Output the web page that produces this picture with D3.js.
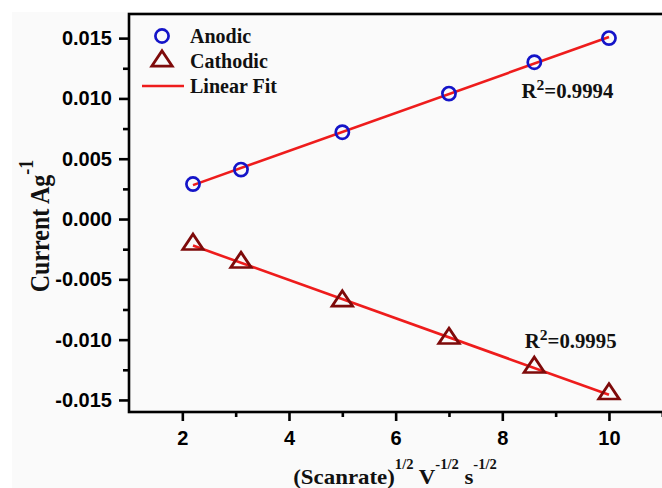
<!DOCTYPE html>
<html>
<head>
<meta charset="utf-8">
<script src="https://cdn.jsdelivr.net/npm/d3@7"></script>
<style>
  html, body { margin: 0; padding: 0; background: #ffffff; }
  svg { display: block; }
</style>
</head>
<body>
<svg id="chart" width="662" height="488"></svg>
<script>
// Peak current vs square root of scan rate
const sqrtScanRate = [2.2, 3.1, 5.0, 7.0, 8.6, 10.0];
const anodicCurrent = [0.0029, 0.0041, 0.0072, 0.0104, 0.0130, 0.0150];
const cathodicCurrent = [-0.0021, -0.0036, -0.0068, -0.0099, -0.0123, -0.0145];
const rSquared = [0.9994, 0.9995];
const legendLabels = ["Anodic", "Cathodic", "Linear Fit"];
const xTicks = [2, 4, 6, 8, 10];
const xMinorTicks = [3, 5, 7, 9, 11];
const yTicks = [-0.015, -0.010, -0.005, 0.000, 0.005, 0.010, 0.015];
const yMinorTicks = [-0.0125, -0.0075, -0.0025, 0.0025, 0.0075, 0.0125];

const svg = d3.select("#chart");
const W = 662, H = 488;
const plotLeft = 129, plotTop = 14, plotRight = 662.3, plotBottom = 412;

const blue = "#1414c8", wine = "#7e0a0a", red = "#ee1c1c";
const serif = "'Liberation Serif', 'Times New Roman', serif";
const sans = "'Liberation Sans', Arial, sans-serif";

// panel
svg.append("rect").attr("x", 0).attr("y", 0).attr("width", W).attr("height", H).attr("fill", "#ffffff");
svg.append("rect").attr("x", 12).attr("y", 12).attr("width", W - 12).attr("height", H - 12).attr("fill", "#fafafa");

const x = d3.scaleLinear().domain([1, 11]).range([plotLeft, plotRight]);
const y = d3.scaleLinear().domain([-0.016, 0.017]).range([plotBottom, plotTop]);

// frame (right edge runs just past the canvas)
svg.append("rect")
  .attr("x", plotLeft).attr("y", plotTop)
  .attr("width", W + 10 - plotLeft).attr("height", plotBottom - plotTop)
  .attr("fill", "none").attr("stroke", "#000").attr("stroke-width", 2.6);

function styleAxis(g) {
  g.select(".domain").remove();
  g.selectAll(".tick line").attr("stroke", "#000").attr("stroke-width", 2.6);
  g.selectAll(".tick text")
    .attr("fill", "#000")
    .style("font-family", sans)
    .style("font-weight", "bold")
    .style("font-size", "20px");
}

// x axis
svg.append("g").attr("transform", `translate(0,${plotBottom})`)
  .call(d3.axisBottom(x).tickValues(xMinorTicks).tickSize(5).tickFormat(""))
  .call(styleAxis);
svg.append("g").attr("transform", `translate(0,${plotBottom})`)
  .call(d3.axisBottom(x).tickValues(xTicks).tickSize(9).tickPadding(10)
        .tickFormat(d => String(d)))
  .call(styleAxis);

// y axis
svg.append("g").attr("transform", `translate(${plotLeft},0)`)
  .call(d3.axisLeft(y).tickValues(yMinorTicks).tickSize(6).tickFormat(""))
  .call(styleAxis);
svg.append("g").attr("transform", `translate(${plotLeft},0)`)
  .call(d3.axisLeft(y).tickValues(yTicks).tickSize(10).tickPadding(7)
        .tickFormat(d => (Math.abs(d) < 1e-12 ? 0 : d).toFixed(3)))
  .call(styleAxis);

// least-squares fit
function linearFit(xs, ys) {
  const n = xs.length;
  const mx = d3.mean(xs), my = d3.mean(ys);
  let sxy = 0, sxx = 0;
  for (let i = 0; i < n; i++) {
    sxy += (xs[i] - mx) * (ys[i] - my);
    sxx += (xs[i] - mx) * (xs[i] - mx);
  }
  const slope = sxy / sxx;
  return { slope, intercept: my - slope * mx };
}

const series = [
  { values: anodicCurrent, color: blue, symbol: "circle" },
  { values: cathodicCurrent, color: wine, symbol: "triangle" }
];

const xExtent = d3.extent(sqrtScanRate);
series.forEach(s => {
  const fit = linearFit(sqrtScanRate, s.values);
  svg.append("line")
    .attr("x1", x(xExtent[0])).attr("y1", y(fit.slope * xExtent[0] + fit.intercept))
    .attr("x2", x(xExtent[1])).attr("y2", y(fit.slope * xExtent[1] + fit.intercept))
    .attr("stroke", red).attr("stroke-width", 2.6);
});

const triangle = d3.symbol().type(d3.symbolTriangle).size(150);

function drawMarker(g, kind, color, cx, cy) {
  if (kind === "circle") {
    g.append("circle").attr("cx", cx).attr("cy", cy).attr("r", 6.6)
      .attr("fill", "none").attr("stroke", color).attr("stroke-width", 2.7);
  } else {
    g.append("path").attr("d", triangle())
      .attr("transform", `translate(${cx},${cy}) scale(1.1,0.95)`)
      .attr("fill", "none").attr("stroke", color).attr("stroke-width", 2.7)
      .attr("stroke-linejoin", "miter");
  }
}

const markers = svg.append("g");
series.forEach(s => {
  s.values.forEach((v, i) => drawMarker(markers, s.symbol, s.color, x(sqrtScanRate[i]), y(v)));
});

// R² annotations
function r2Label(xv, yv, value) {
  const t = svg.append("text")
    .attr("transform", `translate(${x(xv)},${y(yv)}) scale(1.04,1)`)
    .style("font-family", serif).style("font-weight", "bold").style("font-size", "20px")
    .attr("fill", "#111");
  t.append("tspan").text("R");
  t.append("tspan").attr("dy", -8).style("font-size", "15px").text("2");
  t.append("tspan").attr("dy", 8).text("=" + value.toFixed(4));
}
r2Label(8.36, 0.0100, rSquared[0]);
r2Label(8.42, -0.0107, rSquared[1]);

// legend
const legend = svg.append("g");
const legX = 162, legRows = [36, 61, 86];
drawMarker(legend, "circle", blue, legX, legRows[0]);
drawMarker(legend, "triangle", wine, legX, legRows[1]);
legend.append("line").attr("x1", 142).attr("x2", 184)
  .attr("y1", legRows[2]).attr("y2", legRows[2])
  .attr("stroke", red).attr("stroke-width", 2.6);
legendLabels.forEach((lbl, i) => {
  legend.append("text").attr("x", 190).attr("y", legRows[i] + 6.5)
    .style("font-family", serif).style("font-weight", "bold").style("font-size", "20px")
    .attr("fill", "#111").text(lbl);
});

// axis titles
const xt = svg.append("text")
  .attr("transform", `translate(395,484) scale(1.04,1)`)
  .attr("text-anchor", "middle")
  .style("font-family", serif).style("font-weight", "bold").style("font-size", "22px")
  .attr("fill", "#111");
xt.append("tspan").text("(Scanrate)");
xt.append("tspan").attr("dy", -15).style("font-size", "14px").text("1/2");
xt.append("tspan").attr("dy", 15).text(" V");
xt.append("tspan").attr("dy", -15).style("font-size", "14px").text("-1/2");
xt.append("tspan").attr("dy", 15).text(" s");
xt.append("tspan").attr("dy", -15).style("font-size", "14px").text("-1/2");

const yt = svg.append("text")
  .attr("transform", `translate(49,226) rotate(-90) scale(1,1.12)`)
  .attr("text-anchor", "middle")
  .style("font-family", serif).style("font-weight", "bold").style("font-size", "24px")
  .attr("fill", "#111");
yt.append("tspan").text("Current Ag");
yt.append("tspan").attr("dy", -14).style("font-size", "18px").text("-1");
</script>
</body>
</html>
